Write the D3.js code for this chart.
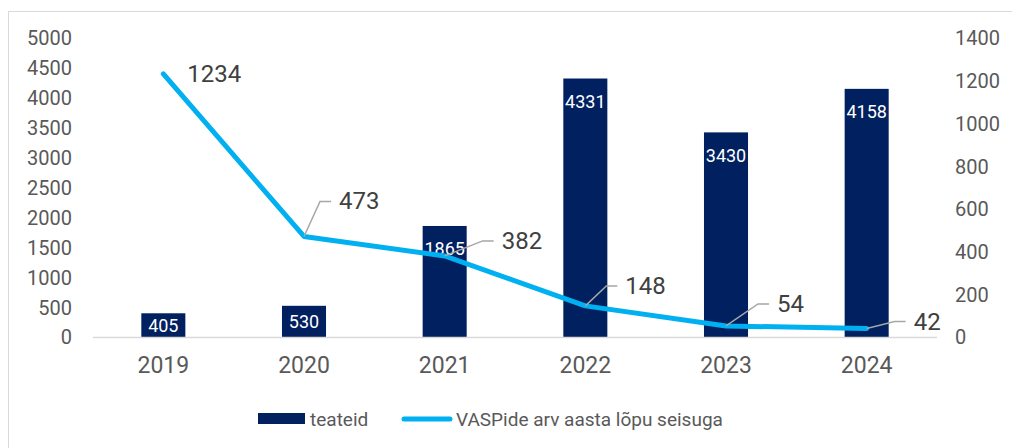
<!DOCTYPE html>
<html>
<head>
<meta charset="utf-8">
<script src="https://cdn.jsdelivr.net/npm/d3@7"></script>
<style>
  body { margin: 0; background: #fff; }
  svg text { font-family: Roboto, "Noto Sans", sans-serif; }
</style>
</head>
<body>
<script>
// chart data
const years = ["2019", "2020", "2021", "2022", "2023", "2024"];
const teateid = [405, 530, 1865, 4331, 3430, 4158];
const vaspCount = [1234, 473, 382, 148, 54, 42];
const leftTicks = [0, 500, 1000, 1500, 2000, 2500, 3000, 3500, 4000, 4500, 5000];
const rightTicks = [0, 200, 400, 600, 800, 1000, 1200, 1400];
const legendNames = ["teateid", "VASPide arv aasta lõpu seisuga"];

// where each line label sits relative to its point (px)
const labelOffsets = [
    [24, 0, false],
    [35, -35, true],
    [57, -15, true],
    [40, -20, true],
    [51, -22, true],
    [47, -7, true]
];

const width = 1012, height = 448;
const barColor = "#00205f", lineColor = "#00b0f0";

const svg = d3.select("body").append("svg")
    .attr("width", width)
    .attr("height", height);

svg.append("rect")
    .attr("x", 8.5).attr("y", 11.5)
    .attr("width", 1010).attr("height", 445)
    .attr("fill", "none")
    .attr("stroke", "#d9d9d9");

const x = d3.scaleBand()
    .domain(years)
    .range([93, 937])
    .paddingInner(0.687)
    .paddingOuter(0.3435);

const yL = d3.scaleLinear().domain([0, 5000]).range([337.5, 38.5]);
const yR = d3.scaleLinear().domain([0, 1400]).range([337.5, 38.5]);

// left axis
const leftAxis = svg.append("g")
    .attr("transform", "translate(76,0)")
    .call(d3.axisLeft(yL).tickValues(leftTicks).tickFormat(d => d).tickSize(0).tickPadding(4));
leftAxis.select(".domain").remove();
leftAxis.selectAll("text")
    .attr("fill", "#595959")
    .style("font-size", "20px");

// right axis
const rightAxis = svg.append("g")
    .attr("transform", "translate(951,0)")
    .call(d3.axisRight(yR).tickValues(rightTicks).tickFormat(d => d).tickSize(0).tickPadding(4));
rightAxis.select(".domain").remove();
rightAxis.selectAll("text")
    .attr("fill", "#595959")
    .style("font-size", "20px");

// bars
svg.append("g")
    .selectAll("rect")
    .data(teateid)
    .join("rect")
    .attr("x", (d, i) => x(years[i]))
    .attr("y", d => yL(d))
    .attr("width", x.bandwidth())
    .attr("height", d => yL(0) - yL(d))
    .attr("fill", barColor);

// baseline
svg.append("line")
    .attr("x1", 93).attr("x2", 937)
    .attr("y1", yL(0)).attr("y2", yL(0))
    .attr("stroke", "#d9d9d9")
    .attr("stroke-width", 1.5);

// x labels
const bottomAxis = svg.append("g")
    .attr("transform", "translate(0," + yL(0) + ")")
    .call(d3.axisBottom(x).tickSize(0).tickPadding(19));
bottomAxis.select(".domain").remove();
bottomAxis.selectAll("text")
    .attr("fill", "#595959")
    .style("font-size", "23px");

// bar labels
svg.append("g")
    .selectAll("text")
    .data(teateid)
    .join("text")
    .attr("x", (d, i) => x(years[i]) + x.bandwidth() / 2)
    .attr("y", d => Math.min(yL(d) + 23, (yL(d) + yL(0)) / 2))
    .attr("text-anchor", "middle")
    .attr("dominant-baseline", "central")
    .attr("fill", "#fff")
    .style("font-size", "18px")
    .text(d => d);

// line
const cx = i => x(years[i]) + x.bandwidth() / 2;
const lineFunction = d3.line()
    .x((d, i) => cx(i))
    .y(d => yR(d));

svg.append("path")
    .attr("d", lineFunction(vaspCount))
    .attr("fill", "none")
    .attr("stroke", lineColor)
    .attr("stroke-width", 5)
    .attr("stroke-linejoin", "round")
    .attr("stroke-linecap", "round");

// line labels + leaders
const lbl = svg.append("g");
vaspCount.forEach(function(v, i) {
    const px = cx(i), py = yR(v);
    const tx = px + labelOffsets[i][0], ty = py + labelOffsets[i][1];
    if (labelOffsets[i][2]) {
        lbl.append("polyline")
            .attr("points", [[px, py], [tx - 19, ty], [tx - 8, ty]].join(" "))
            .attr("fill", "none")
            .attr("stroke", "#a6a6a6")
            .attr("stroke-width", 1.5);
    }
    lbl.append("text")
        .attr("x", tx)
        .attr("y", ty)
        .attr("dominant-baseline", "central")
        .attr("fill", "#404040")
        .style("font-size", "24px")
        .text(v);
});

// legend
const legend = svg.append("g");
legend.append("rect")
    .attr("x", 258).attr("y", 413)
    .attr("width", 47).attr("height", 11)
    .attr("fill", barColor);
legend.append("text")
    .attr("x", 310).attr("y", 419)
    .attr("dominant-baseline", "central")
    .attr("fill", "#595959")
    .style("font-size", "19px")
    .text(legendNames[0]);
legend.append("line")
    .attr("x1", 404).attr("x2", 450)
    .attr("y1", 419).attr("y2", 419)
    .attr("stroke", lineColor)
    .attr("stroke-width", 5)
    .attr("stroke-linecap", "round");
legend.append("text")
    .attr("x", 456).attr("y", 419)
    .attr("dominant-baseline", "central")
    .attr("fill", "#595959")
    .style("font-size", "19px")
    .text(legendNames[1]);
</script>
</body>
</html>
